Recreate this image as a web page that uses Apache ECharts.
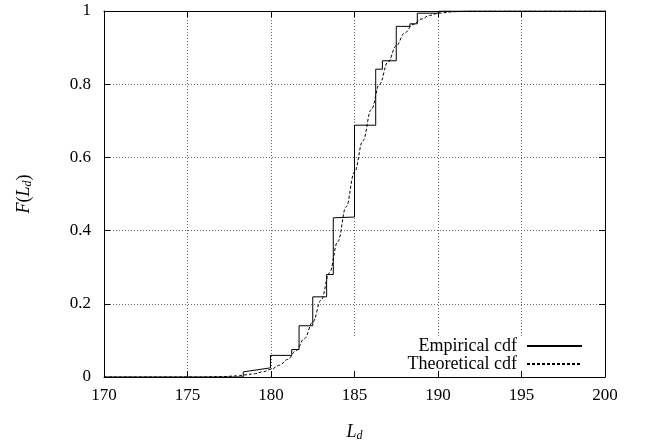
<!DOCTYPE html>
<html>
<head>
<meta charset="utf-8">
<script src="https://cdn.jsdelivr.net/npm/echarts@6/dist/echarts.min.js"></script>
<style>
  html, body { margin: 0; padding: 0; background: #fff; }
  #chart { width: 646px; height: 447px; }
</style>
</head>
<body>
<div id="chart"></div>
<script>
// empirical cdf, vertices of the step line
var empX = [170, 178.34, 178.34, 179.97, 179.97, 181.24, 181.24, 181.68, 181.68, 182.5, 182.5,
  183.33, 183.33, 183.73, 183.73, 185.0, 185.0, 186.27, 186.27, 186.67, 186.67, 187.5, 187.5,
  188.32, 188.32, 188.76, 188.76, 190.06, 190.06, 200];
var empY = [0, 0, 0.014, 0.025, 0.059, 0.059, 0.075, 0.075, 0.14, 0.14, 0.219,
  0.219, 0.28, 0.28, 0.435, 0.437, 0.688, 0.688, 0.841, 0.841, 0.864, 0.864, 0.958,
  0.958, 0.965, 0.965, 0.994, 0.994, 1, 1];

// theoretical cdf, sampled from the dashed curve
var theoX = [170, 176, 177, 178, 178.5, 179, 179.5, 180, 180.5, 181, 181.5, 182, 182.5, 183,
  183.5, 184, 184.5, 185, 185.5, 186, 186.5, 187, 187.5, 188, 188.5, 189, 189.5, 190, 191, 192, 200];
var theoY = [0, 0, 0.001, 0.003, 0.006, 0.009, 0.014, 0.021, 0.032, 0.048, 0.072, 0.105, 0.15, 0.21,
  0.285, 0.37, 0.465, 0.56, 0.645, 0.73, 0.8, 0.86, 0.905, 0.94, 0.963, 0.978, 0.988, 0.994, 0.998, 1, 1];

var xTicks = [170, 175, 180, 185, 190, 195, 200];
var yTicks = [0, 0.2, 0.4, 0.6, 0.8, 1];
var seriesNames = ["Empirical cdf", "Theoretical cdf"];

function pairs(xs, ys) {
  var out = [];
  for (var i = 0; i < xs.length; i++) out.push([xs[i], ys[i]]);
  return out;
}

var font = "'Liberation Serif', 'DejaVu Serif', serif";
var chart = echarts.init(document.getElementById("chart"));

var gridLine = { show: true, lineStyle: { color: "#666", type: [1, 2], width: 1 } };
var frame = { show: true, onZero: false, lineStyle: { color: "#000", width: 1 } };
var tick = { show: true, inside: true, length: 6, lineStyle: { color: "#000" } };

// plain frame axis: line + inward ticks, no labels, no grid
function frameAxis(pos, ticks, step) {
  return {
    type: "value",
    position: pos,
    min: ticks[0],
    max: ticks[ticks.length - 1],
    interval: step,
    z: 6,
    axisLine: frame,
    axisTick: tick,
    axisLabel: { show: false },
    splitLine: { show: false }
  };
}

var option = {
  backgroundColor: "#fff",
  animation: false,
  textStyle: { fontFamily: font },
  grid: { left: 104, right: 41, top: 11, bottom: 65 },
  legend: {
    orient: "vertical",
    align: "right",
    right: 43,
    top: 337,
    padding: [0, 20, 4, 59],
    itemGap: 0,
    itemWidth: 55,
    itemHeight: 14,
    backgroundColor: "#fff",
    itemStyle: { opacity: 0 },
    textStyle: { fontFamily: font, fontSize: 18, lineHeight: 17, color: "#000", padding: [0, 5, 0, 0] },
    data: seriesNames.map(function (n) { return { name: n, itemStyle: { opacity: 0 } }; })
  },
  xAxis: [
    {
      type: "value",
      min: xTicks[0],
      max: xTicks[xTicks.length - 1],
      interval: 5,
      axisLine: { show: false },
      axisTick: { show: false },
      splitLine: gridLine,
      axisLabel: { color: "#000", fontSize: 17, fontFamily: font, margin: 10 },
      name: "{i|L}{s|d}",
      nameLocation: "middle",
      nameGap: 46,
      nameTextStyle: {
        rich: {
          i: { fontFamily: font, fontStyle: "italic", fontSize: 18, color: "#000" },
          s: { fontFamily: font, fontStyle: "italic", fontSize: 12, color: "#000", verticalAlign: "bottom", padding: [7, 0, 0, 0] }
        }
      }
    },
    frameAxis("bottom", xTicks, 5),
    frameAxis("top", xTicks, 5)
  ],
  yAxis: [
    {
      type: "value",
      min: yTicks[0],
      max: yTicks[yTicks.length - 1],
      interval: 0.2,
      axisLine: frame,
      axisTick: tick,
      splitLine: gridLine,
      axisLabel: { color: "#000", fontSize: 17, fontFamily: font, margin: 13 },
      name: "{i|F}{n|(}{i|L}{s|d}{n|)}",
      nameLocation: "middle",
      nameGap: 70,
      nameRotate: 90,
      nameTextStyle: {
        rich: {
          i: { fontFamily: font, fontStyle: "italic", fontSize: 18, color: "#000" },
          n: { fontFamily: font, fontSize: 18, color: "#000" },
          s: { fontFamily: font, fontStyle: "italic", fontSize: 12, color: "#000", verticalAlign: "bottom", padding: [7, 0, 0, 0] }
        }
      }
    },
    frameAxis("right", yTicks, 0.2)
  ],
  series: [
    {
      name: seriesNames[0],
      type: "line",
      data: pairs(empX, empY),
      symbol: "none",
      lineStyle: { color: "#000", width: 1 },
      itemStyle: { color: "#000" },
      z: 3
    },
    {
      name: seriesNames[1],
      type: "line",
      data: pairs(theoX, theoY),
      symbol: "none",
      smooth: 0.4,
      smoothMonotone: "x",
      lineStyle: { color: "#000", width: 1, type: [3, 2] },
      itemStyle: { color: "#000" },
      z: 2
    }
  ]
};

chart.setOption(option);
</script>
</body>
</html>
